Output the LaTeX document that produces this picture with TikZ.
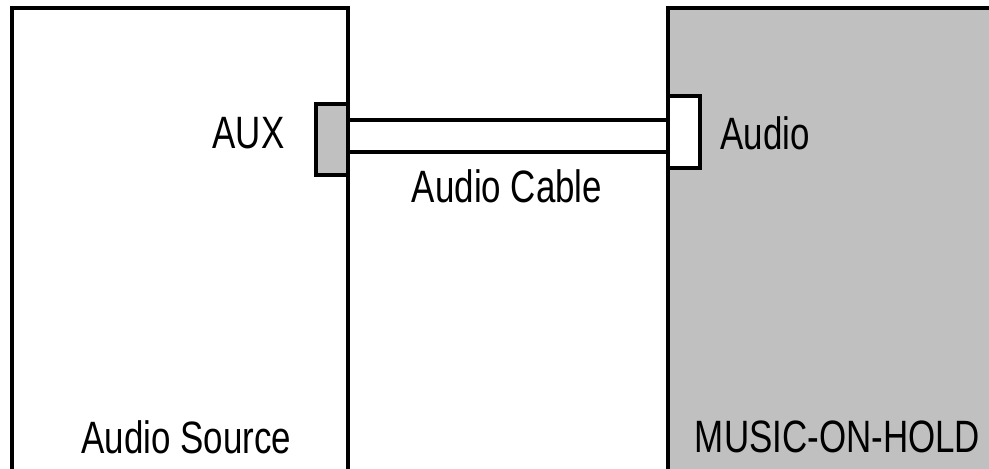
\documentclass[tikz,border=0pt]{standalone}
\usepackage{fontspec}
\setmainfont{Liberation Sans}[FakeStretch=0.77]
\usetikzlibrary{positioning}
\definecolor{boxgray}{RGB}{192,192,192}
\tikzset{
  unit/.style={draw, line width=1.1pt, minimum width=#1, minimum height=5.11cm, inner sep=0pt},
  jack/.style={draw, line width=1.1pt, minimum width=0.32cm, minimum height=0.71cm, inner sep=0pt},
  lbl/.style={font=\fontsize{12.9}{14}\selectfont, inner sep=0pt}
}
\begin{document}
\begin{tikzpicture}
  \useasboundingbox (0,0) rectangle (9.89,4.69);
  \clip (0,0) rectangle (9.89,4.69);
  % geraete
  \node[unit=3.36cm, fill=white] (source) at (1.80,2.055) {};
  \node[unit=3.82cm, fill=boxgray] (moh) at (8.59,2.055) {};
  % buchsen
  \node[jack, fill=boxgray] (aux) at (3.32,3.295) {};
  \node[jack, fill=white, minimum height=0.72cm] (audio) at (6.84,3.37) {};
  % kabel
  \draw[line width=1.1pt] (aux.east |- 0,3.49) -- (audio.west |- 0,3.49);
  \draw[line width=1.1pt] (aux.east |- 0,3.17) -- (audio.west |- 0,3.17);
  % beschriftung
  \node[lbl, left=0.29cm of aux.west, yshift=0.065cm] (auxlbl) {AUX};
  \node[lbl, right=0.18cm of audio.east, yshift=-0.01cm] (audiolbl) {Audio};
  \node[lbl] (cablelbl) at (5.07,2.83) {Audio Cable};
  \node[lbl] (sourcelbl) at (1.865,0.32) {Audio Source};
  \node[lbl] (mohlbl) at (8.375,0.32) {MUSIC-ON-HOLD};
\end{tikzpicture}
\end{document}
